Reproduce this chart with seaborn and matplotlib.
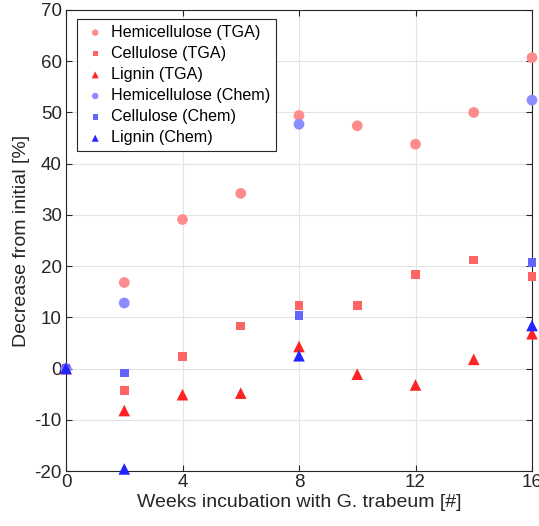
import matplotlib
matplotlib.use("Agg")
import matplotlib.pyplot as plt
import seaborn as sns
import pandas as pd

weeks = [0, 2, 4, 6, 8, 10, 12, 14, 16]
hemi_tga = [0, 16.8, 29.1, 34.2, 49.4, 47.4, 43.8, 50.0, 60.7]
cell_tga = [0, -4.3, 2.3, 8.3, 12.3, 12.3, 18.4, 21.2, 17.9]
lign_tga = [0, -8.2, -5.1, -4.8, 4.3, -1.1, -3.2, 1.8, 6.8]

weeks_chem = [0, 2, 8, 16]
hemi_chem = [0, 12.8, 47.7, 52.4]
cell_chem = [0, -0.85, 10.3, 20.7]
lign_chem = [0, -19.6, 2.5, 8.4]

series = [
    ("Hemicellulose (TGA)", weeks, hemi_tga, "o", "#FF8C8C", 60),
    ("Cellulose (TGA)", weeks, cell_tga, "s", "#FF6464", 40),
    ("Lignin (TGA)", weeks, lign_tga, "^", "#FF2424", 70),
    ("Hemicellulose (Chem)", weeks_chem, hemi_chem, "o", "#8C8CFF", 60),
    ("Cellulose (Chem)", weeks_chem, cell_chem, "s", "#6464FF", 40),
    ("Lignin (Chem)", weeks_chem, lign_chem, "^", "#2424FF", 70),
]

sns.set_theme(style="white")
plt.rcParams["font.family"] = ["Liberation Sans", "DejaVu Sans"]
plt.rcParams["font.size"] = 12
plt.rcParams["axes.unicode_minus"] = False

fig = plt.figure(figsize=(5.39, 5.26), dpi=100)
ax = fig.add_axes([66 / 539, 1 - 471 / 526, 466 / 539, 461 / 526])

for label, x, y, m, c, s in series:
    df = pd.DataFrame({"x": x, "y": y})
    sns.scatterplot(data=df, x="x", y="y", marker=m, color=c, s=s,
                    edgecolor="none", linewidth=0, label=label, ax=ax,
                    zorder=3, clip_on=False)

ax.set_xlim(0, 16)
ax.set_ylim(-20, 70)
ax.set_xticks([0, 4, 8, 12, 16])
ax.set_yticks(range(-20, 71, 10))
ax.grid(True, color="#E3E3E3", linewidth=0.8)
ax.set_axisbelow(True)
for sp in ax.spines.values():
    sp.set_color("#262626")
    sp.set_linewidth(0.8)
ax.tick_params(direction="in", length=4, width=0.8, colors="#262626",
               labelsize=13.5, top=True, right=True, bottom=True, left=True,
               labelcolor="#262626", pad=2)
ax.tick_params(axis="y", pad=3)
ax.set_xlabel("Weeks incubation with G. trabeum [#]", fontsize=14, color="#262626", labelpad=2)
ax.set_ylabel("Decrease from initial [%]", fontsize=14, color="#262626", labelpad=3)

leg = ax.legend(loc="upper left", bbox_to_anchor=(0.016, 0.987), fontsize=11.6,
                frameon=True, fancybox=False, framealpha=1, edgecolor="#262626",
                borderpad=0.35, labelspacing=0.38, handletextpad=0.2, handlelength=1.6,
                markerscale=0.6, borderaxespad=0.2)
leg.get_frame().set_linewidth(0.8)
for t in leg.get_texts():
    t.set_color("black")

fig.savefig("out.png", dpi=100)
